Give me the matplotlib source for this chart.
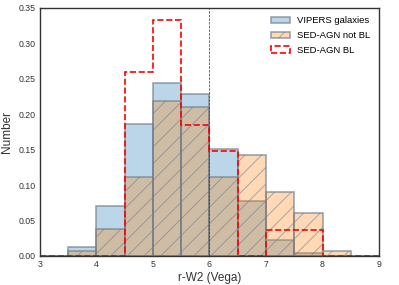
import numpy as np
import matplotlib.pyplot as plt

plt.rcParams['font.family'] = ['Liberation Sans', 'DejaVu Sans']
plt.rcParams['hatch.linewidth'] = 0.6

bins = np.arange(3.0, 9.01, 0.5)
centers = bins[:-1] + 0.25

vipers = [0.0, 0.012, 0.070, 0.186, 0.244, 0.228, 0.151, 0.078, 0.023, 0.004, 0.0, 0.0]
agn_not_bl = [0.0, 0.007, 0.038, 0.112, 0.218, 0.210, 0.112, 0.143, 0.090, 0.061, 0.0075, 0.0]
agn_bl = [0.0, 0.0, 0.0, 0.260, 0.333, 0.185, 0.148, 0.0, 0.037, 0.037, 0.0, 0.0]

fig = plt.figure(figsize=(3.99, 2.85), dpi=100)
ax = fig.add_axes([0.1, 0.102, 0.85, 0.87])

edge = (0.45, 0.5, 0.56, 0.7)
ax.hist(centers, bins=bins, weights=vipers, facecolor=(0.12, 0.47, 0.71, 0.3),
        edgecolor=edge, linewidth=1.2, label='VIPERS galaxies')
ax.hist(centers, bins=bins, weights=agn_not_bl, facecolor=(1.0, 0.5, 0.05, 0.3),
        edgecolor=edge, linewidth=1.2, hatch='//', label='SED-AGN not BL')
ax.hist(centers, bins=bins, weights=agn_bl, histtype='step', color='red',
        linestyle='--', linewidth=1.2, label='SED-AGN BL')

ax.axvline(6, color='#333333', linestyle='--', linewidth=0.5)

ax.set_xlim(3, 9)
ax.set_ylim(0, 0.35)
ax.set_xticks(np.arange(3, 10, 1))
ax.set_yticks(np.arange(0, 0.36, 0.05))
ax.tick_params(length=0, labelsize=6.3, colors='#333333', pad=3)
for s in ax.spines.values():
    s.set_color('#333333')
    s.set_linewidth(1.0)

ax.set_xlabel('r-W2 (Vega)', fontsize=8.5, color='#333333', labelpad=2)
ax.set_ylabel('Number', fontsize=8.5, color='#333333', labelpad=4)
ax.legend(loc='upper right', frameon=False, fontsize=6.8, labelspacing=0.6)

fig.savefig('out.png', dpi=100)
